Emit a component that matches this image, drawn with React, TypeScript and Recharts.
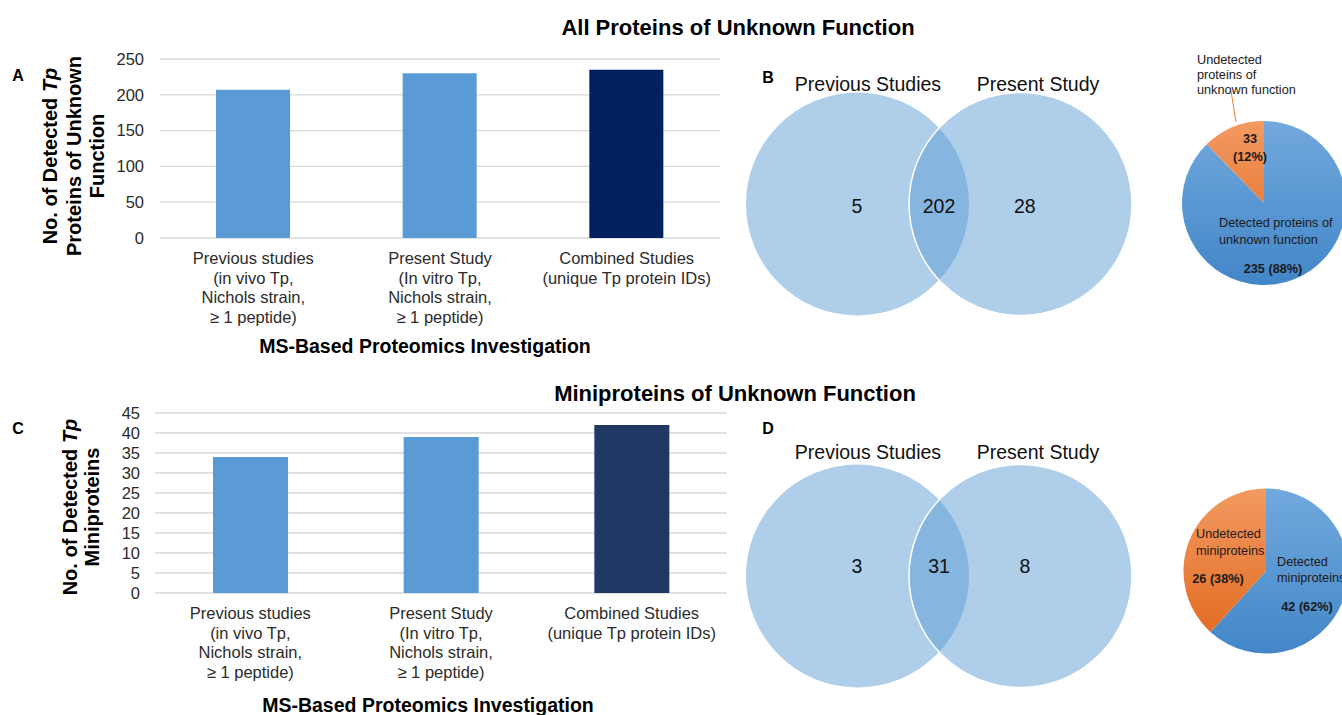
import React from 'react';
import {
  BarChart,
  Bar,
  XAxis,
  YAxis,
  CartesianGrid,
  Cell,
  Label,
  PieChart,
  Pie,
  ScatterChart,
  Scatter,
} from 'recharts';

const FONT = '"Liberation Sans", Arial, Helvetica, sans-serif';

// ---- data ----
const studyCategories = [
  'Previous studies\n(in vivo Tp,\nNichols strain,\n≥ 1 peptide)',
  'Present Study\n(In vitro Tp,\nNichols strain,\n≥ 1 peptide)',
  'Combined Studies\n(unique Tp protein IDs)',
];
const allProteinCounts = [207, 230, 235];
const miniproteinCounts = [34, 39, 42];
const allTicks = [0, 50, 100, 150, 200, 250];
const miniTicks = [0, 5, 10, 15, 20, 25, 30, 35, 40, 45];

const vennSetNames = ['Previous Studies', 'Present Study'];
// [previous only, both, present only]
const vennAllCounts = [5, 202, 28];
const vennMiniCounts = [3, 31, 8];

const pieAllNames = ['Detected proteins of\nunknown function', 'Undetected\nproteins of\nunknown function'];
const pieAllValues = [235, 33];
const pieMiniNames = ['Detected\nminiproteins', 'Undetected\nminiproteins'];
const pieMiniValues = [42, 26];

const xAxisTitle = 'MS-Based Proteomics Investigation';
type Seg = { t: string; italic?: boolean };
const yTitleAll: Seg[][] = [
  [{ t: 'No. of Detected ' }, { t: 'Tp', italic: true }],
  [{ t: 'Proteins of Unknown' }],
  [{ t: 'Function' }],
];
const yTitleMini: Seg[][] = [
  [{ t: 'No. of Detected ' }, { t: 'Tp', italic: true }],
  [{ t: 'Miniproteins' }],
];

// ---- styling ----
const BAR_BLUE = '#5b9bd5';
const allBarColors = [BAR_BLUE, BAR_BLUE, '#002060'];
const miniBarColors = [BAR_BLUE, BAR_BLUE, '#203864'];
const TEXT = '#2b2b2b';

const CategoryTick = (props: any) => {
  const { x, y, payload } = props;
  const lines = String(payload.value).split('\n');
  return (
    <text x={x} y={y} textAnchor="middle" fontFamily={FONT} fontSize={16.5} fill={TEXT}>
      {lines.map((l, i) => (
        <tspan key={i} x={x} dy={i === 0 ? 18 : 19.7}>
          {l}
        </tspan>
      ))}
    </text>
  );
};

function RotatedTitle({ lines, xs, cy }: { lines: Seg[][]; xs: number[]; cy: number }) {
  return (
    <g>
      {lines.map((segs, i) => (
        <text
          key={i}
          transform={`translate(${xs[i]},${cy}) rotate(-90)`}
          textAnchor="middle"
          dominantBaseline="central"
          fontFamily={FONT}
          fontSize={20}
          fontWeight="bold"
          fill="#000"
        >
          {segs.map((s, j) => (
            <tspan key={j} fontStyle={s.italic ? 'italic' : 'normal'}>
              {s.t}
            </tspan>
          ))}
        </text>
      ))}
    </g>
  );
}

type BarsProps = {
  values: number[];
  ticks: number[];
  colors: string[];
  height: number;
  marginTop: number;
  marginRight: number;
  plotHeight: number;
  yAxisWidth: number;
  tickMargin: number;
  barSize: number;
  titleLines: Seg[][];
  titleXs: number[];
  titleCY: number;
  xTitleX: number;
  xTitleY: number;
};

function StudyBars(p: BarsProps) {
  const data = studyCategories.map((c, i) => ({ category: c, count: p.values[i] }));
  const xAxisHeight = p.height - p.marginTop - p.plotHeight;
  const maxTick = p.ticks[p.ticks.length - 1];
  return (
    <BarChart
      width={740}
      height={p.height}
      data={data}
      margin={{ top: p.marginTop, right: p.marginRight, bottom: 0, left: 0 }}
    >
      <CartesianGrid vertical={false} stroke="#d9d9d9" strokeWidth={1.3} />
      <XAxis
        dataKey="category"
        height={xAxisHeight}
        axisLine={false}
        tickLine={false}
        interval={0}
        tick={<CategoryTick />}
      >
        <Label
          content={() => (
            <text
              x={p.xTitleX}
              y={p.xTitleY}
              textAnchor="middle"
              fontFamily={FONT}
              fontSize={19.5}
              fontWeight="bold"
              fill="#000"
            >
              {xAxisTitle}
            </text>
          )}
        />
      </XAxis>
      <YAxis
        width={p.yAxisWidth}
        domain={[0, maxTick]}
        ticks={p.ticks}
        interval={0}
        axisLine={false}
        tickLine={false}
        tickMargin={p.tickMargin}
        tick={{ fontSize: 16.5, fill: TEXT, fontFamily: FONT }}
      >
        <Label content={() => <RotatedTitle lines={p.titleLines} xs={p.titleXs} cy={p.titleCY} />} />
      </YAxis>
      <Bar dataKey="count" barSize={p.barSize} isAnimationActive={false}>
        {data.map((d, i) => (
          <Cell key={d.category} fill={p.colors[i]} />
        ))}
      </Bar>
    </BarChart>
  );
}

// ---- Venn diagram (two equal circles, drawn in circle-radius units) ----
const VENN_W = 400;
const VENN_H = 320;
const VENN_R = 111.5; // circle radius, px
const VENN_OFFSET = 0.731; // circle centre distance from the middle, in radii

function Venn({ counts, nameY, countY }: { counts: number[]; nameY: number; countY: number }) {
  const hx = VENN_W / 2 / VENN_R;
  const hy = VENN_H / 2 / VENN_R;
  const circles = vennSetNames.map((name, i) => ({
    x: i === 0 ? -VENN_OFFSET : VENN_OFFSET,
    y: 0,
    name,
    edge: i === 0 ? 'none' : '#ffffff',
  }));
  const names = vennSetNames.map((name, i) => ({ x: i === 0 ? -0.637 : 0.888, y: nameY, label: name }));
  const countPts = counts.map((c, i) => ({ x: [-0.735, 0, 0.77][i], y: countY, label: String(c) }));
  const textShape = (size: number) => (s: any) =>
    (
      <text
        x={s.cx}
        y={s.cy}
        textAnchor="middle"
        dominantBaseline="central"
        fontFamily={FONT}
        fontSize={size}
        fill="#111"
      >
        {s.payload.label}
      </text>
    );
  return (
    <ScatterChart width={VENN_W} height={VENN_H} margin={{ top: 0, right: 0, bottom: 0, left: 0 }}>
      <XAxis type="number" dataKey="x" domain={[-hx, hx]} hide allowDataOverflow />
      <YAxis type="number" dataKey="y" domain={[-hy, hy]} hide allowDataOverflow />
      <Scatter
        data={circles}
        isAnimationActive={false}
        shape={(s: any) => (
          <circle
            cx={s.cx}
            cy={s.cy}
            r={VENN_R}
            fill={BAR_BLUE}
            fillOpacity={0.49}
            stroke={s.payload.edge}
            strokeWidth={1.5}
          />
        )}
      />
      <Scatter data={names} isAnimationActive={false} shape={textShape(19.5)} />
      <Scatter data={countPts} isAnimationActive={false} shape={textShape(19.5)} />
    </ScatterChart>
  );
}

// ---- pies ----
type PieLabelSpec = {
  name: { dx: number; dy: number }; // first line of the category name
  nameStep: number;
  value: { dx: number; dy: number; split?: boolean };
  leader?: [number, number, number, number];
};

function SharePie({
  id,
  names,
  values,
  width,
  height,
  cx,
  cy,
  r,
  specs,
}: {
  id: string;
  names: string[];
  values: number[];
  width: number;
  height: number;
  cx: number;
  cy: number;
  r: number;
  specs: PieLabelSpec[];
}) {
  const data = names.map((n, i) => ({ name: n, value: values[i] }));
  const fills = [`url(#${id}-blue)`, `url(#${id}-orange)`];
  const renderLabel = (props: any) => {
    const { index, percent, value } = props;
    const pcx = props.cx;
    const pcy = props.cy;
    const spec = specs[index];
    const lines = String(data[index].name).split('\n');
    const pct = `${Math.round(percent * 100)}%`;
    return (
      <g key={`lbl-${index}`}>
        {spec.leader && (
          <line
            x1={pcx + spec.leader[0]}
            y1={pcy + spec.leader[1]}
            x2={pcx + spec.leader[2]}
            y2={pcy + spec.leader[3]}
            stroke="#ed7d31"
            strokeWidth={1}
          />
        )}
        {lines.map((l, i) => (
          <text
            key={i}
            x={pcx + spec.name.dx}
            y={pcy + spec.name.dy + i * spec.nameStep}
            textAnchor="start"
            dominantBaseline="central"
            fontFamily={FONT}
            fontSize={12.7}
            fill="#1a1a1a"
          >
            {l}
          </text>
        ))}
        {spec.value.split ? (
          <>
            <text
              x={pcx + spec.value.dx}
              y={pcy + spec.value.dy}
              textAnchor="middle"
              dominantBaseline="central"
              fontFamily={FONT}
              fontSize={12.7}
              fontWeight="bold"
              fill="#1a1a1a"
            >
              {value}
            </text>
            <text
              x={pcx + spec.value.dx}
              y={pcy + spec.value.dy + 18}
              textAnchor="middle"
              dominantBaseline="central"
              fontFamily={FONT}
              fontSize={12.7}
              fontWeight="bold"
              fill="#1a1a1a"
            >
              ({pct})
            </text>
          </>
        ) : (
          <text
            x={pcx + spec.value.dx}
            y={pcy + spec.value.dy}
            textAnchor="middle"
            dominantBaseline="central"
            fontFamily={FONT}
            fontSize={12.7}
            fontWeight="bold"
            fill="#1a1a1a"
          >
            {`${value} (${pct})`}
          </text>
        )}
      </g>
    );
  };
  return (
    <PieChart width={width} height={height} margin={{ top: 0, right: 0, bottom: 0, left: 0 }}>
      <defs>
        <linearGradient id={`${id}-blue`} x1="0" y1={cy - r} x2="0" y2={cy + r} gradientUnits="userSpaceOnUse">
          <stop offset="0%" stopColor="#72a9dd" />
          <stop offset="100%" stopColor="#4286c8" />
        </linearGradient>
        <linearGradient id={`${id}-orange`} x1="0" y1={cy - r} x2="0" y2={cy + r} gradientUnits="userSpaceOnUse">
          <stop offset="0%" stopColor="#f39a62" />
          <stop offset="100%" stopColor="#e0661a" />
        </linearGradient>
      </defs>
      <Pie
        data={data}
        dataKey="value"
        nameKey="name"
        cx={cx}
        cy={cy}
        outerRadius={r}
        startAngle={90}
        endAngle={-270}
        stroke="none"
        label={renderLabel}
        labelLine={false}
        isAnimationActive={false}
      >
        {data.map((d, i) => (
          <Cell key={d.name} fill={fills[i]} />
        ))}
      </Pie>
    </PieChart>
  );
}

const pieAllSpecs: PieLabelSpec[] = [
  { name: { dx: -45, dy: 20 }, nameStep: 17, value: { dx: 9, dy: 66 } },
  {
    name: { dx: -67, dy: -143 },
    nameStep: 15,
    value: { dx: -14, dy: -64, split: true },
    leader: [-33, -112, -28, -81],
  },
];
const pieMiniSpecs: PieLabelSpec[] = [
  { name: { dx: 11, dy: -9 }, nameStep: 16, value: { dx: 41, dy: 36 } },
  { name: { dx: -70, dy: -37 }, nameStep: 17, value: { dx: -48, dy: 8 } },
];

const abs = (left: number, top: number): React.CSSProperties => ({ position: 'absolute', left, top });

export default function App() {
  return (
    <div
      style={{
        position: 'absolute',
        left: 0,
        top: 0,
        width: 1342,
        height: 715,
        background: '#ffffff',
        overflow: 'hidden',
        fontFamily: FONT,
      }}
    >
      <div style={abs(0, 0)}>
        <StudyBars
          values={allProteinCounts}
          ticks={allTicks}
          colors={allBarColors}
          height={362}
          marginTop={59}
          marginRight={20}
          plotHeight={179}
          yAxisWidth={160}
          tickMargin={10}
          barSize={74}
          titleLines={yTitleAll}
          titleXs={[50, 74, 97]}
          titleCY={156}
          xTitleX={425}
          xTitleY={353}
        />
      </div>
      <div style={abs(0, 360)}>
        <StudyBars
          values={miniproteinCounts}
          ticks={miniTicks}
          colors={miniBarColors}
          height={355}
          marginTop={53}
          marginRight={13}
          plotHeight={180}
          yAxisWidth={155}
          tickMargin={9}
          barSize={75}
          titleLines={yTitleMini}
          titleXs={[70, 92]}
          titleCY={147}
          xTitleX={428}
          xTitleY={352}
        />
      </div>
      <div style={abs(739, 44)}>
        <Venn counts={vennAllCounts} nameY={1.08} countY={-0.02} />
      </div>
      <div style={abs(739, 416)}>
        <Venn counts={vennMiniCounts} nameY={1.11} countY={0.09} />
      </div>
      <div style={abs(1170, 40)}>
        <SharePie
          id="pieAll"
          names={pieAllNames}
          values={pieAllValues}
          width={172}
          height={260}
          cx={94}
          cy={163}
          r={82}
          specs={pieAllSpecs}
        />
      </div>
      <div style={abs(1170, 470)}>
        <SharePie
          id="pieMini"
          names={pieMiniNames}
          values={pieMiniValues}
          width={172}
          height={200}
          cx={96}
          cy={101}
          r={82.5}
          specs={pieMiniSpecs}
        />
      </div>
      <svg width={1342} height={715} style={{ position: 'absolute', left: 0, top: 0, pointerEvents: 'none' }}>
        <g fontFamily={FONT} fontWeight="bold" fill="#000" textAnchor="middle" dominantBaseline="central">
          <text x={738} y={27} fontSize={22}>
            All Proteins of Unknown Function
          </text>
          <text x={735} y={393} fontSize={22}>
            Miniproteins of Unknown Function
          </text>
          <text x={18} y={75} fontSize={16}>
            A
          </text>
          <text x={768} y={77} fontSize={16}>
            B
          </text>
          <text x={18} y={428} fontSize={16}>
            C
          </text>
          <text x={768} y={428} fontSize={16}>
            D
          </text>
        </g>
      </svg>
    </div>
  );
}
